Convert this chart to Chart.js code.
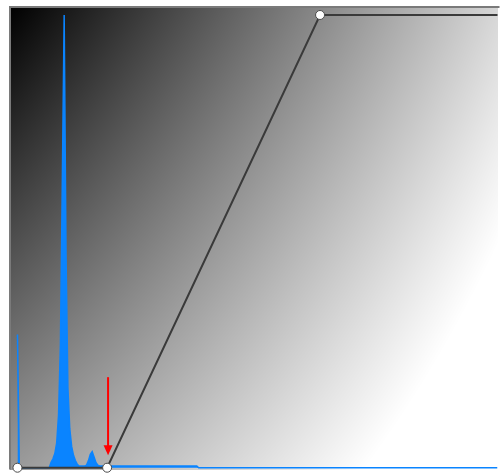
<!DOCTYPE html>
<html>
<head>
<meta charset="utf-8">
<script src="https://cdn.jsdelivr.net/npm/chart.js@4.4.1/dist/chart.umd.min.js"></script>
<style>
  html, body { margin: 0; padding: 0; background: #fff; }
  #wrap { width: 503px; height: 475px; position: relative; }
</style>
</head>
<body>
<div id="wrap"><canvas id="curvesChart"></canvas></div>
<script>
// histogram of the image (level -> count, scaled to 0..255)
const histLevels = [0, 1, 2, 17, 18, 19, 20, 21, 22, 23, 24, 25, 26, 27, 28, 29, 30, 31, 32, 33,
                    36, 37, 38, 39, 40, 41, 42, 43, 44, 52, 96, 97, 257];
const histCounts = [75, 0, 0, 0, 3, 5, 8, 14, 30, 70, 160, 255, 120, 45, 22, 12, 7, 4, 2, 1,
                    1, 1.5, 4, 7.5, 9, 6, 3, 1.5, 1, 1, 1, 0, 0];

// tone curve handles (input -> output)
const curveIn = [0, 48, 162, 257];
const curveOut = [0, 0, 255, 255];

// red marker arrow: level and span in output units
const arrowLevel = 48.5;
const arrowFrom = 51;
const arrowTo = 7;

// background shade at the four corners (0 black .. 1 white)
const cornerTL = 0, cornerTR = 0.84, cornerBL = 0.6, cornerBR = 1.15;

let shade = null;
function makeShade(w, h) {
    const c = document.createElement('canvas');
    c.width = w; c.height = h;
    const cx = c.getContext('2d');
    const img = cx.createImageData(w, h);
    for (let j = 0; j < h; j++) {
        const v = j / (h - 1);
        for (let i = 0; i < w; i++) {
            const u = i / (w - 1);
            let t = cornerTL * (1 - u) * (1 - v) + cornerTR * u * (1 - v)
                  + cornerBL * (1 - u) * v + cornerBR * u * v;
            t = Math.max(0, Math.min(1, t));
            const g = Math.round(t * 255);
            const k = (j * w + i) * 4;
            img.data[k] = g; img.data[k + 1] = g; img.data[k + 2] = g; img.data[k + 3] = 255;
        }
    }
    cx.putImageData(img, 0, 0);
    return c;
}

const backdrop = {
    id: 'backdrop',
    beforeDraw(chart) {
        const { ctx, chartArea: a } = chart;
        const w = Math.round(a.right - a.left), h = Math.round(a.bottom - a.top);
        if (!shade || shade.width !== w || shade.height !== h) shade = makeShade(w, h);
        ctx.save();
        ctx.drawImage(shade, a.left, a.top);
        ctx.strokeStyle = '#7a7a7a';
        ctx.lineWidth = 2;
        ctx.beginPath();
        ctx.moveTo(a.left, a.bottom);
        ctx.lineTo(a.left, a.top);
        ctx.lineTo(a.right + 2, a.top);
        ctx.stroke();
        ctx.restore();
    },
    afterDatasetsDraw(chart) {
        const { ctx, scales } = chart;
        const x = scales.x.getPixelForValue(arrowLevel);
        const y0 = scales.y.getPixelForValue(arrowFrom);
        const y1 = scales.y.getPixelForValue(arrowTo);
        ctx.save();
        ctx.strokeStyle = '#ff0000';
        ctx.fillStyle = '#ff0000';
        ctx.lineWidth = 2;
        ctx.beginPath();
        ctx.moveTo(x, y0);
        ctx.lineTo(x, y1 - 8);
        ctx.stroke();
        ctx.beginPath();
        ctx.moveTo(x - 4.5, y1 - 10);
        ctx.lineTo(x + 4.5, y1 - 10);
        ctx.lineTo(x, y1);
        ctx.closePath();
        ctx.fill();
        ctx.restore();
    }
};

const ctx = document.getElementById('curvesChart').getContext('2d');
const curvesChart = new Chart(ctx, {
    type: 'line',
    data: {
        datasets: [{
            label: 'Curve',
            data: curveIn.map((v, i) => ({ x: v, y: curveOut[i] })),
            borderColor: '#3a3a3a',
            borderWidth: 2,
            pointRadius: [4.5, 4.5, 4.5, 0],
            pointBackgroundColor: '#ffffff',
            pointBorderColor: '#4a4a4a',
            pointBorderWidth: 1,
            tension: 0,
            clip: false,
            order: 0
        }, {
            label: 'Histogram',
            data: histLevels.map((v, i) => ({ x: v, y: histCounts[i] })),
            borderColor: '#0a84ff',
            backgroundColor: '#0a84ff',
            borderWidth: 1.5,
            pointRadius: 0,
            fill: 'origin',
            tension: 0,
            order: 1
        }]
    },
    options: {
        responsive: true,
        maintainAspectRatio: false,
        animation: false,
        layout: { padding: { left: 10, top: 7, right: 0, bottom: 1 } },
        scales: {
            x: { type: 'linear', min: -4, max: 257, display: false },
            y: { type: 'linear', min: -1, max: 259.5, display: false }
        },
        plugins: {
            legend: { display: false },
            tooltip: { enabled: false }
        }
    },
    plugins: [backdrop]
});
</script>
</body>
</html>
